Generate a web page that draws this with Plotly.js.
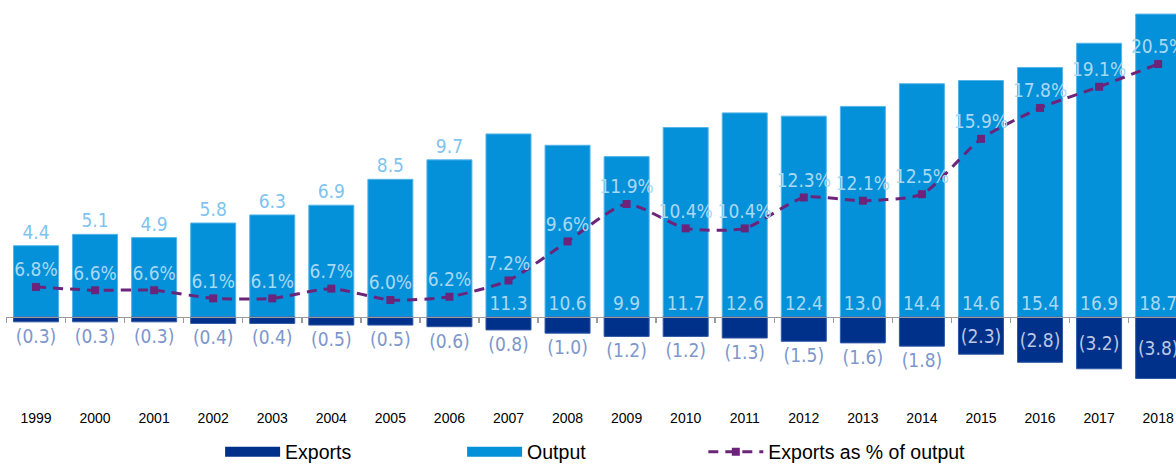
<!DOCTYPE html>
<html>
<head>
<meta charset="utf-8">
<script src="https://cdn.plot.ly/plotly-3.0.1.min.js"></script>
<style>
  html, body { margin: 0; padding: 0; background: #fff; overflow: hidden; }
  #chart { width: 1176px; height: 465px; }
  #chart text.bartext, #chart .textpoint text { font-stretch: condensed !important; }
</style>
</head>
<body>
<div id="chart"></div>
<script>
// Output vs exports, with exports as a share of output

const years = ['1999', '2000', '2001', '2002', '2003', '2004', '2005', '2006', '2007', '2008',
  '2009', '2010', '2011', '2012', '2013', '2014', '2015', '2016', '2017', '2018'];
const output = [4.4, 5.1, 4.9, 5.8, 6.3, 6.9, 8.5, 9.7, 11.3, 10.6, 9.9, 11.7, 12.6, 12.4, 13.0, 14.4, 14.6, 15.4, 16.9, 18.7];
const exportsVal = [-0.3, -0.3, -0.3, -0.4, -0.4, -0.5, -0.5, -0.6, -0.8, -1.0, -1.2, -1.2, -1.3, -1.5, -1.6, -1.8, -2.3, -2.8, -3.2, -3.8];
const sharePct = [6.8, 6.6, 6.6, 6.1, 6.1, 6.7, 6.0, 6.2, 7.2, 9.6, 11.9, 10.4, 10.4, 12.3, 12.1, 12.5, 15.9, 17.8, 19.1, 20.5];

const NAVY = '#00318a';
const BLUE = '#0591d9';
const PURPLE = '#6b2479';
const NARROW = '"Liberation Sans Narrow", "DejaVu Sans Condensed", "DejaVu Sans", sans-serif';
const ARIAL = '"Liberation Sans", Arial, sans-serif';

const xRange = [-0.508, 19.302];
const yRange = [-5.62, 19.57];
const y2Range = [-0.633, 24.43];
const zeroPos = (0 - yRange[0]) / (yRange[1] - yRange[0]);

const traces = [
  {
    type: 'bar',
    x: years,
    y: output,
    name: 'Output',
    showlegend: false,
    marker: { color: BLUE, line: { color: '#56b4e8', width: 1 } },
    text: output.map(v => v.toFixed(1)),
    textposition: output.map((_, i) => i < 8 ? 'outside' : 'inside'),
    insidetextanchor: 'start',
    textangle: 0,
    constraintext: 'none',
    cliponaxis: false,
    insidetextfont: { family: NARROW, size: 19, color: '#a9d8f3' },
    outsidetextfont: { family: NARROW, size: 19, color: '#7ec4ee' },
    hoverinfo: 'skip'
  },
  {
    type: 'bar',
    x: years,
    y: exportsVal,
    name: 'Exports',
    showlegend: false,
    marker: { color: NAVY, line: { color: '#2f58a8', width: 1 } },
    text: exportsVal.map(v => '(' + Math.abs(v).toFixed(1) + ')'),
    textposition: exportsVal.map(v => v <= -2 ? 'inside' : 'outside'),
    insidetextanchor: 'middle',
    textangle: 0,
    constraintext: 'none',
    cliponaxis: false,
    insidetextfont: { family: NARROW, size: 19, color: '#bcc7e3' },
    outsidetextfont: { family: NARROW, size: 19, color: '#7d97cd' },
    hoverinfo: 'skip'
  },
  // legend swatches
  { type: 'scatter', x: [null], y: [null], mode: 'lines', name: 'Exports', line: { color: NAVY, width: 12 }, hoverinfo: 'skip' },
  { type: 'scatter', x: [null], y: [null], mode: 'lines', name: 'Output', line: { color: BLUE, width: 12 }, hoverinfo: 'skip' },
  {
    type: 'scatter',
    x: years,
    y: sharePct,
    yaxis: 'y2',
    legend: 'legend2',
    mode: 'lines+markers+text',
    name: 'Exports as % of output',
    line: { color: PURPLE, width: 3, dash: '10px,7px', shape: 'spline', smoothing: 0.6 },
    marker: { symbol: 'square', size: 8, color: PURPLE },
    text: sharePct.map(v => v.toFixed(1) + '%'),
    textposition: 'top center',
    textfont: { family: NARROW, size: 19, color: '#a9d8f3' },
    cliponaxis: false,
    hoverinfo: 'skip'
  },
  // carrier for the zero axis with boundary ticks
  { type: 'scatter', x: [], y: [], xaxis: 'x2', showlegend: false, hoverinfo: 'skip' }
];

const boundaryTicks = years.map((_, i) => i - 0.5).concat([years.length - 0.5]);

const legendBase = {
  orientation: 'h',
  y: -0.108, yanchor: 'middle',
  itemwidth: 55,
  traceorder: 'normal',
  font: { family: ARIAL, size: 19.5, color: '#000' },
  bgcolor: 'rgba(0,0,0,0)'
};

const layout = {
  width: 1176,
  height: 465,
  margin: { l: 6, r: 0, t: 0, b: 57, autoexpand: false },
  paper_bgcolor: '#fff',
  plot_bgcolor: '#fff',
  barmode: 'relative',
  bargap: 0.238,
  font: { family: ARIAL, color: '#000' },
  xaxis: {
    type: 'category',
    range: xRange,
    showgrid: false, zeroline: false, showline: false, ticks: '',
    tickfont: { family: ARIAL, size: 14, color: '#000' }
  },
  xaxis2: {
    type: 'linear',
    overlaying: 'x',
    anchor: 'free',
    position: zeroPos,
    range: xRange,
    tickmode: 'array',
    tickvals: boundaryTicks,
    showticklabels: false,
    ticks: 'outside', ticklen: 5, tickwidth: 1.5, tickcolor: '#9a9a9a',
    showline: true, linecolor: '#9a9a9a', linewidth: 1.5,
    showgrid: false, zeroline: false
  },
  yaxis: {
    range: yRange,
    showgrid: false, zeroline: false, showline: false, showticklabels: false, ticks: ''
  },
  yaxis2: {
    range: y2Range,
    overlaying: 'y',
    side: 'right',
    showgrid: false, zeroline: false, showline: false, showticklabels: false, ticks: ''
  },
  showlegend: true,
  legend: { ...legendBase, x: 0.183, xanchor: 'left', entrywidth: 172 },
  legend2: { ...legendBase, x: 0.596, xanchor: 'left' }
};

Plotly.newPlot('chart', traces, layout, { displayModeBar: false, staticPlot: true });
</script>
</body>
</html>
